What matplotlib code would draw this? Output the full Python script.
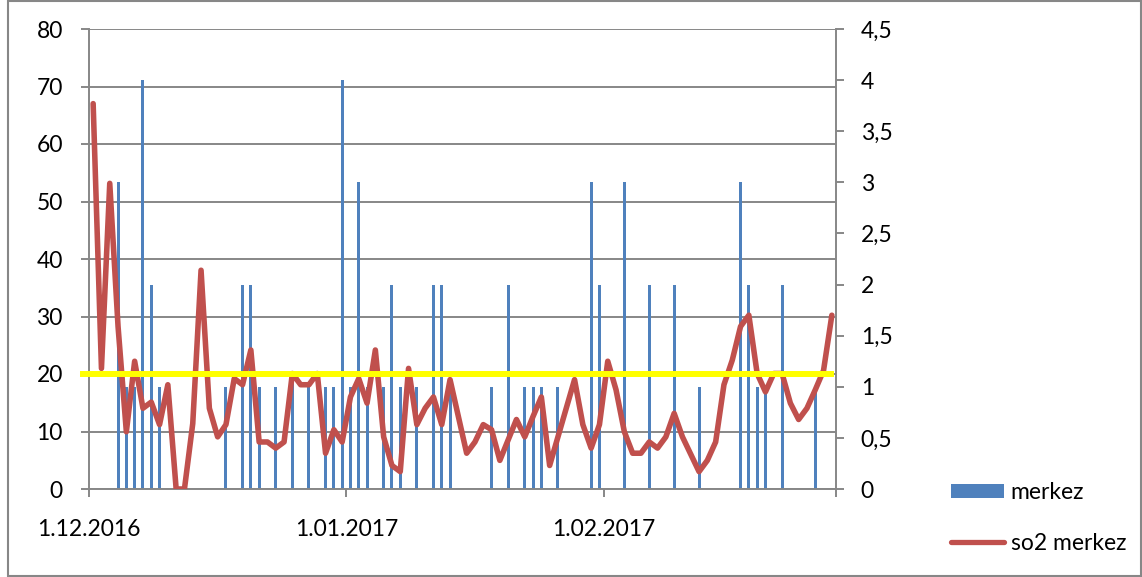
import matplotlib
matplotlib.use("Agg")
import matplotlib.pyplot as plt
import matplotlib.transforms as mtransforms
from matplotlib.patches import Rectangle, Patch
from matplotlib.lines import Line2D
import pandas as pd

plt.rcParams['font.family'] = ['Lato', 'DejaVu Sans']

# ---- data ----
start_date = "2016-12-01"
n_days = 90
dates = pd.date_range(start_date, periods=n_days, freq="D")

# merkez (bars, left axis) - non-zero days only (day index -> value)
bar_days = [3, 4, 5, 6, 7, 8, 16, 18, 19, 20, 22, 24, 26, 28, 29, 30, 31, 32, 33,
            35, 36, 37, 39, 41, 42, 43, 48, 50, 52, 53, 54, 56, 60, 61, 64, 67,
            70, 73, 78, 79, 80, 81, 83, 87]
bar_vals = [53.33, 17.78, 17.78, 71.11, 35.56, 17.78, 17.78, 35.56, 35.56, 17.78,
            17.78, 20.0, 17.78, 17.78, 17.78, 71.11, 17.78, 53.33, 17.78,
            17.78, 35.56, 17.78, 17.78, 35.56, 35.56, 17.78, 17.78, 35.56, 17.78,
            17.78, 17.78, 17.78, 53.33, 35.56, 53.33, 35.56,
            35.56, 17.78, 53.33, 35.56, 17.78, 17.78, 35.56, 17.78]

# so2 merkez (line, right axis)
so2 = [3.77, 1.18, 2.99, 1.59, 0.56, 1.25, 0.79, 0.85, 0.63, 1.02,
       0.00, 0.00, 0.64, 2.14, 0.79, 0.51, 0.63, 1.08, 1.02, 1.36,
       0.46, 0.46, 0.40, 0.46, 1.13, 1.02, 1.02, 1.13, 0.35, 0.58,
       0.46, 0.90, 1.08, 0.84, 1.36, 0.51, 0.23, 0.17, 1.18, 0.63,
       0.79, 0.90, 0.63, 1.07, 0.71, 0.35, 0.46, 0.63, 0.58, 0.28,
       0.48, 0.68, 0.51, 0.71, 0.90, 0.23, 0.51, 0.79, 1.07, 0.63,
       0.40, 0.63, 1.25, 0.97, 0.56, 0.35, 0.35, 0.46, 0.40, 0.51,
       0.74, 0.51, 0.34, 0.17, 0.28, 0.46, 1.02, 1.26, 1.59, 1.70,
       1.13, 0.95, 1.13, 1.13, 0.84, 0.68, 0.79, 0.97, 1.16, 1.70]

threshold = 20
left_ticks = [0, 10, 20, 30, 40, 50, 60, 70, 80]
right_ticks = [0, 0.5, 1, 1.5, 2, 2.5, 3, 3.5, 4, 4.5]
right_labels = ["0", "0,5", "1", "1,5", "2", "2,5", "3", "3,5", "4", "4,5"]
month_ticks = ["2016-12-01", "2017-01-01", "2017-02-01", "2017-03-01"]
month_labels = ["1.12.2016", "1.01.2017", "1.02.2017", ""]
series_names = ["merkez", "so2 merkez"]

# ---- style ----
BLUE = "#4F81BD"
RED = "#C0504D"
GREY = "#878787"
FS = 16.5

fig = plt.figure(figsize=(11.42, 5.77), dpi=100)
W, H = 1142, 577
ax = fig.add_axes([89 / W, 1 - 489 / H, (836 - 89) / W, (489 - 29) / H])
ax2 = ax.twinx()

t0 = pd.Timestamp(start_date)
xpos = [(d - t0).days + 0.5 for d in dates]
bx = [xpos[i] for i in bar_days]

ax.bar(bx, bar_vals, width=0.36, color=BLUE, zorder=2)
ax.set_ylim(0, 80)
ax.set_xlim(0, n_days)
ax.set_yticks(left_ticks)
ax.set_yticklabels([str(v) for v in left_ticks])
ax.yaxis.grid(True, color=GREY, linewidth=1.4)
ax.set_axisbelow(True)

mt = [(pd.Timestamp(m) - t0).days for m in month_ticks]
ax.set_xticks(mt)
ax.set_xticklabels(month_labels)

ax2.plot(xpos, so2, color=RED, linewidth=4.0, solid_joinstyle="round",
         solid_capstyle="round", zorder=3)
ax2.set_ylim(0, 4.5)
ax2.set_yticks(right_ticks)
ax2.set_yticklabels(right_labels)

# yellow threshold line (left-axis value), drawn above everything
trans = mtransforms.blended_transform_factory(ax2.transAxes, ax.transData)
ax2.add_line(Line2D([-0.008, 0.993], [threshold, threshold], transform=trans,
                    color="#FFFF00", linewidth=4.3, zorder=5, clip_on=False))

for a in (ax, ax2):
    for s in a.spines.values():
        s.set_visible(False)
ax.spines["left"].set_visible(True)
ax.spines["bottom"].set_visible(True)
ax2.spines["right"].set_visible(True)
for s in (ax.spines["left"], ax.spines["bottom"], ax2.spines["right"]):
    s.set_color(GREY)
    s.set_linewidth(1.4)

ax.tick_params(axis="y", direction="out", length=5.8, width=1.4, color=GREY,
               labelsize=FS, pad=13)
ax.tick_params(axis="x", direction="out", length=5.8, width=1.4, color=GREY,
               labelsize=FS, pad=16)
ax2.tick_params(axis="y", direction="out", length=5.8, width=1.4, color=GREY,
                labelsize=FS, pad=12)

# outer chart border
fig.add_artist(Rectangle((7.5 / W, 1.0 / H), (1140.5 - 7.5) / W, (576 - 1.0) / H,
                         transform=fig.transFigure, fill=False,
                         edgecolor=GREY, linewidth=1.5))

handles = [Patch(facecolor=BLUE, edgecolor="none"),
           Line2D([0], [0], color=RED, linewidth=3.8, solid_capstyle="round")]
fig.legend(handles, series_names, loc="upper left",
           bbox_to_anchor=(951 / W, 1 - 482 / H), frameon=False,
           fontsize=FS, borderpad=0, handlelength=2.3, handleheight=0.62,
           handletextpad=0.3, labelspacing=1.3, borderaxespad=0)

fig.savefig("out.png", dpi=100)
